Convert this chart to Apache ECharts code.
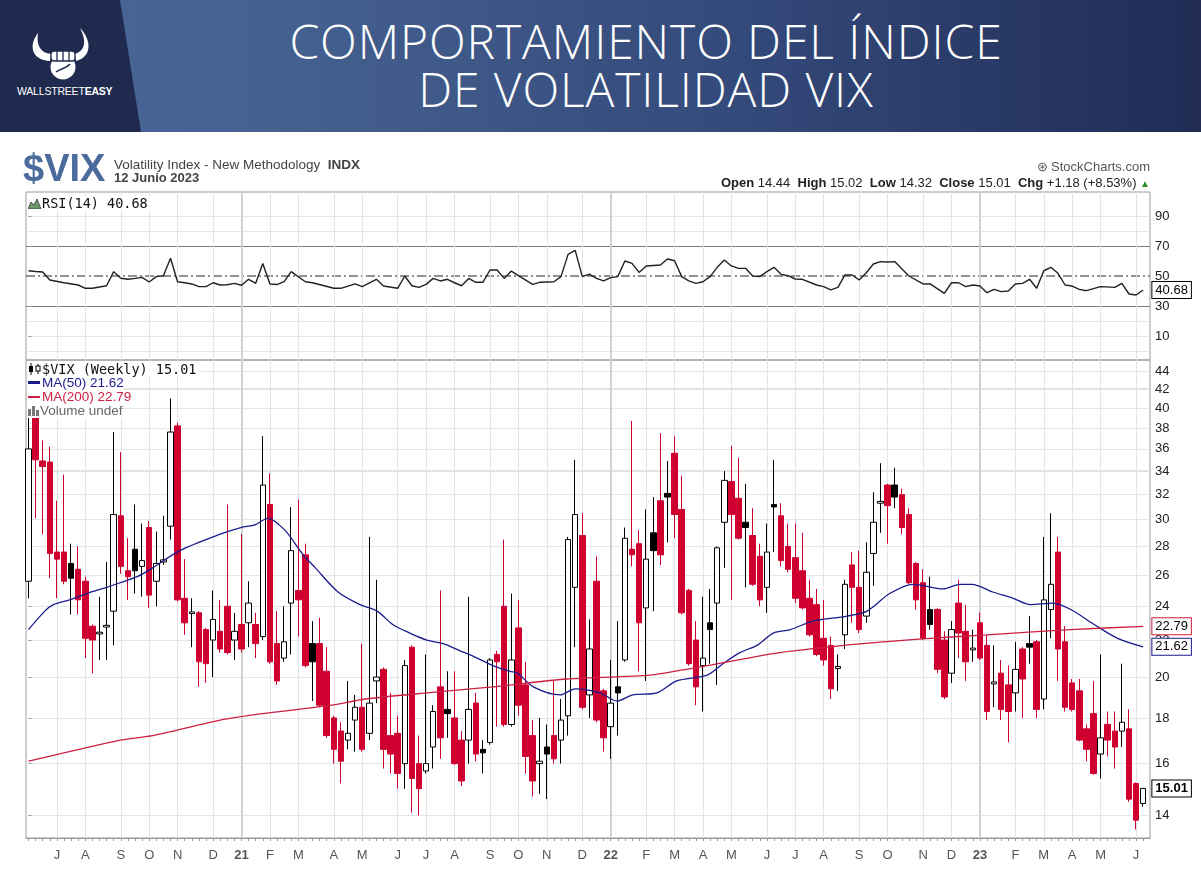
<!DOCTYPE html>
<html><head><meta charset="utf-8">
<script src="https://cdn.jsdelivr.net/npm/echarts@6/dist/echarts.min.js"></script>
<style>
html,body{margin:0;padding:0;width:1201px;height:872px;overflow:hidden;background:#fff;font-family:"Liberation Sans",Arial,sans-serif;}
#chart{position:absolute;left:0;top:0;width:1201px;height:872px;}
.ov{position:absolute;z-index:5;white-space:nowrap;}
#banner{position:absolute;left:0;top:0;width:1201px;height:132px;z-index:4;overflow:hidden;
  background:linear-gradient(90deg,#4a679a 0px,#44608f 300px,#33497a 750px,#202c54 1201px);}
#logoPanel{position:absolute;left:0;top:0;width:142px;height:132px;background:#1f2a4e;clip-path:polygon(0 0,120px 0,141px 132px,0 132px);}
.ttl{position:absolute;left:0;width:1292px;text-align:center;color:#fff;font-family:"Open Sans",sans-serif;font-weight:300;font-size:48px;line-height:50px;letter-spacing:0.9px;}
.mono{font-family:"DejaVu Sans Mono",monospace;font-size:13.5px;color:#111;background:#fff;line-height:14px;}
.leg{font-family:"Liberation Sans",Arial,sans-serif;font-size:13.5px;line-height:14px;background:#fff;}
</style></head>
<body>
<div id="chart"></div>

<div id="banner">
  <div id="logoPanel">
    <svg width="130" height="132" viewBox="0 0 130 132" style="position:absolute;left:0;top:0">
      <path d="M38 33 C28 46 32 60 50 61 L51 54 C41 53 36 46 38 33 Z" fill="#fff"/>
      <path d="M80 28 C92 40 92 57 76 61 L75 54 C85 51 87 41 80 28 Z" fill="#fff"/>
      <circle cx="63" cy="67" r="12.5" fill="#fff"/>
      <rect x="51" y="51" width="24" height="10" rx="3" fill="#fff" stroke="#1f2a4e" stroke-width="1.3"/>
      <path d="M57 51 L57 61 M63 51 L63 61 M69 51 L69 61" stroke="#1f2a4e" stroke-width="1.3"/>
      <path d="M56 72 C61 68 66 69 70 64" stroke="#1f2a4e" stroke-width="1.6" fill="none"/>
      <text x="17" y="95" fill="#fff" font-family="Liberation Sans, Arial" font-size="10.5" letter-spacing="-0.2">WALLSTREET<tspan font-weight="bold">EASY</tspan></text>
    </svg>
  </div>
  <div class="ttl" style="top:16px">COMPORTAMIENTO DEL ÍNDICE</div>
  <div class="ttl" style="top:64px">DE VOLATILIDAD VIX</div>
</div>

<div class="ov" style="left:23px;top:149px;font:bold 38px 'Liberation Sans',Arial;color:#4a6b9c;letter-spacing:0px;line-height:38px">$VIX</div>
<div class="ov" style="left:114px;top:158px;font-size:13.5px;color:#444;line-height:14px">Volatility Index - New Methodology&nbsp;&nbsp;<b>INDX</b></div>
<div class="ov" style="left:114px;top:171px;font-size:13px;font-weight:bold;color:#444;line-height:14px">12 Junio 2023</div>
<div class="ov" style="right:51px;top:160px;font-size:13px;color:#555;line-height:14px">&#x229B;&thinsp;StockCharts.com</div>
<div class="ov" style="right:51px;top:176px;font-size:13px;color:#222;line-height:14px"><b>Open</b> 14.44&nbsp; <b>High</b> 15.02&nbsp; <b>Low</b> 14.32&nbsp; <b>Close</b> 15.01&nbsp; <b>Chg</b> +1.18 (+8.53%) <span style="color:#2e8b2e;font-size:10px">&#9650;</span></div>

<div class="ov mono" style="left:28px;top:196px;padding-right:2px">
  <svg width="14" height="11" style="vertical-align:-1px"><path d="M0 11 L3 4 L6 7 L9 1 L13 11 Z" fill="#6a9a6a" stroke="#333" stroke-width="0.8"/></svg>RSI(14) 40.68</div>

<div class="ov mono" style="left:28px;top:362px;padding-right:2px">
  <svg width="14" height="12" style="vertical-align:-1px"><path d="M3 0 L3 12 M10 1 L10 11" stroke="#000" stroke-width="1"/><rect x="1" y="3" width="4" height="6" fill="#000"/><rect x="8" y="3" width="4" height="5" fill="#fff" stroke="#000" stroke-width="1"/></svg>$VIX (Weekly) 15.01</div>
<div class="ov leg" style="left:28px;top:376px;color:#1a1a8e"><span style="display:inline-block;width:12px;height:3px;background:#1a1a8e;vertical-align:3px;margin-right:2px"></span>MA(50) 21.62</div>
<div class="ov leg" style="left:28px;top:390px;color:#cc1f42"><span style="display:inline-block;width:12px;height:2px;background:#cc1f42;vertical-align:3px;margin-right:2px"></span>MA(200) 22.79</div>
<div class="ov leg" style="left:28px;top:404px;color:#666">
  <svg width="12" height="11" style="vertical-align:-1px"><rect x="0" y="4" width="3" height="7" fill="#777"/><rect x="4" y="1" width="3" height="10" fill="#777"/><rect x="8" y="5" width="3" height="6" fill="#777"/></svg>Volume undef</div>

<script>
// ---------------- DATA ----------------
const weekStart = '2020-06-08'; // Monday of first weekly bar; one bar per week to 2023-06-12
const opens = [25.6,39.5,34.9,34.8,27.6,27.6,26.8,26.4,25.6,22.8,
22.35,22.75,23.7,30.3,26.3,27.8,26.6,29.4,25.6,26.9,
29.5,38.2,24.5,23.55,23.6,22.6,22.0,22.5,24.0,22.0,
22.9,23.0,22.9,22.2,31.2,21.8,21.0,24.2,25.0,27.4,
21.8,21.8,20.3,18.0,17.4,17.0,17.9,18.5,17.3,19.8,
20.4,17.2,17.3,16.0,21.6,16.0,15.7,16.7,19.5,18.4,
18.0,17.0,17.0,18.7,16.6,16.9,21.2,24.0,17.7,22.7,
19.6,17.2,16.0,16.7,17.2,17.0,18.1,25.2,28.8,19.1,
25.6,19.3,17.6,19.5,20.9,27.8,28.2,23.9,29.0,31.5,
32.1,35.6,30.8,25.0,22.0,20.6,23.0,24.2,29.8,33.1,
31.7,29.8,28.8,27.3,25.2,31.2,30.3,28.0,27.2,26.3,
24.5,24.1,22.1,21.7,20.45,22.3,26.7,25.2,23.4,27.5,
31.3,32.8,32.8,32.0,30.4,26.8,25.5,23.8,23.8,22.0,
20.2,24.2,22.5,21.45,23.0,21.7,19.65,20.2,19.6,19.2,
21.5,21.8,21.9,18.9,23.8,27.6,21.9,19.7,19.3,17.5,
18.2,16.4,17.7,17.4,17.4,17.5,15.2,14.44];
const highs = [44.4,41.2,36.8,36.2,31.5,33.7,28.2,28.0,25.9,22.9,
24.6,26.9,37.6,35.7,28.6,31.2,29.7,29.9,29.1,30.3,
41.0,38.5,27.1,24.5,23.7,22.7,25.0,24.4,31.2,23.6,
28.9,25.6,23.6,37.2,33.8,23.7,24.0,31.0,31.6,28.2,
23.1,23.3,21.6,18.1,17.8,19.8,19.1,21.8,28.7,25.7,
20.5,19.2,18.1,20.9,21.7,17.2,21.2,18.6,25.0,20.3,
20.3,17.4,24.6,19.2,17.0,21.0,21.4,28.5,24.8,24.4,
20.8,17.9,18.0,17.7,19.8,18.9,28.7,35.0,30.5,23.2,
27.3,19.4,20.9,23.1,29.4,38.7,29.2,30.8,31.8,37.5,
34.9,37.2,33.6,25.1,23.1,24.6,25.1,28.0,34.0,36.3,
35.2,32.9,30.9,28.2,29.7,35.0,31.3,29.7,29.7,29.0,
25.7,25.1,24.4,22.2,21.2,25.7,27.6,27.7,28.3,32.2,
34.7,32.9,34.3,32.5,30.9,26.9,26.4,25.9,23.9,22.5,
23.1,25.7,24.1,22.6,23.6,22.3,21.7,20.9,20.6,21.9,
21.6,23.4,22.0,28.7,30.5,28.7,22.8,19.9,19.9,17.7,
19.8,21.2,18.3,18.3,20.7,18.4,15.25,15.02];
const lows = [24.5,30.1,28.9,25.8,24.5,25.4,23.5,23.5,21.0,20.2,
20.9,20.9,21.7,26.1,24.4,24.8,24.6,23.9,24.0,26.7,
28.5,24.3,22.3,21.6,19.5,19.7,20.0,21.3,21.2,20.9,
21.3,21.6,21.0,22.0,20.7,19.6,20.8,21.2,22.2,20.5,
18.8,18.5,17.1,16.0,15.2,16.6,16.5,16.5,17.0,18.7,
15.8,15.6,15.0,15.0,14.1,14.0,15.6,15.8,16.2,17.1,
15.95,15.1,16.0,16.1,15.6,16.8,17.6,17.6,17.6,18.1,
15.6,14.7,14.8,14.6,16.0,16.0,17.2,21.6,18.4,18.0,
17.8,16.5,16.2,17.2,20.8,26.6,20.3,19.8,23.7,26.7,
28.3,28.6,23.5,20.6,18.6,18.3,20.7,19.6,26.5,24.4,
28.5,25.2,25.3,24.0,23.6,27.6,26.6,26.2,24.2,23.8,
22.2,21.1,20.6,18.9,19.3,21.5,23.0,22.4,23.0,25.3,
29.0,28.2,30.9,28.9,25.4,23.8,22.0,22.6,20.2,18.9,
19.7,21.0,19.8,20.8,20.9,17.9,18.5,17.9,16.9,18.3,
18.0,20.7,18.0,18.4,22.1,19.8,18.3,18.3,16.95,16.1,
15.55,15.4,16.3,15.8,16.7,14.5,13.5,14.32];
const closes = [36.0,35.0,34.4,27.5,27.1,25.6,25.8,24.4,22.1,22.0,
22.45,22.85,30.4,26.6,25.9,26.3,27.0,24.7,26.8,27.05,
37.6,24.4,23.0,23.65,20.8,20.7,23.2,21.5,21.3,22.5,
21.5,24.2,21.8,32.8,20.8,19.8,21.9,27.7,24.4,20.6,
20.8,18.6,17.2,16.6,16.1,17.3,18.5,16.6,18.7,20.0,
16.6,16.4,15.6,20.6,15.4,15.0,16.0,18.3,17.1,18.2,
16.0,15.3,18.4,16.4,16.45,20.9,20.8,17.7,20.9,18.6,
16.3,15.3,16.1,16.4,16.2,17.9,28.5,30.4,18.5,21.5,
17.9,17.1,18.7,19.2,28.6,27.4,23.0,27.1,27.7,27.4,
31.8,30.4,23.6,20.7,19.5,21.0,22.6,27.9,33.2,30.4,
28.6,29.4,25.4,24.4,27.6,31.0,27.0,26.4,24.5,23.9,
22.3,21.2,20.9,19.4,20.55,25.4,25.2,22.6,26.2,29.8,
31.45,31.1,31.8,29.4,25.5,24.4,22.1,22.9,20.4,19.0,
22.6,22.4,20.8,21.55,21.0,18.3,19.75,18.4,18.3,20.4,
19.9,21.6,18.4,24.4,25.4,21.5,18.5,18.4,17.0,16.6,
15.6,17.1,17.0,16.7,17.8,14.6,13.83,15.01];
// moving averages: [week index, value]
const ma50Pts = [[0,22.6],[2.3,23.7],[3.5,24.1],[5.8,24.4],[8.2,24.8],[11,25.2],[12.9,25.5],[15.3,25.9],[17.5,26.5],[21.3,27.7],[27,28.9],[29.9,29.4],[31.9,29.6],[33.7,30.1],[36.1,29.2],[38.7,27.4],[40.4,26.5],[43.6,24.9],[46.7,24.1],[49.1,23.7],[51.3,22.9],[53.7,22.4],[56.1,22.0],[58.4,21.8],[60.8,21.4],[63.2,21.0],[65.4,20.6],[67.8,20.3],[68.9,20.2],[71.1,19.5],[74.9,19.1],[77,19.4],[80.5,19.2],[82.9,18.8],[85.1,19.1],[88.5,19.2],[91.3,19.8],[95.6,20.1],[97.8,20.7],[100.2,21.3],[102.6,21.7],[104.9,22.4],[107.3,22.6],[110.5,23.1],[115.3,23.4],[118.1,23.7],[121.3,24.8],[124.6,25.4],[128.8,25.1],[131.2,25.4],[132.9,25.4],[135.8,24.9],[138.7,24.5],[141.1,24.1],[144.3,24.2],[146.8,23.8],[150.1,22.9],[153.4,22.1],[157,21.62]];
const ma200Pts = [[0,16.1],[12.9,17.0],[17.5,17.2],[27,17.9],[32.9,18.2],[38,18.4],[42.7,18.6],[47.4,18.9],[56.1,19.2],[65.4,19.5],[75.8,19.9],[87.5,20.1],[95.6,20.6],[105.8,21.3],[117.5,21.8],[127,22.1],[135,22.3],[146.7,22.6],[157,22.79]];
// RSI(14): [week index, value]
const rsiPts = [[0,53.5],[1,53.0],[2,52.7],[3,47.3],[5,45.5],[7,44.0],[8,41.8],[9,41.8],[11,43.5],[12,52.9],[13,48.5],[14,47.8],[15,48.4],[16,49.1],[17,46.0],[18,49.6],[19,50.2],[20,61.8],[21,46.2],[22,45.5],[23,44.7],[24,42.9],[25,42.9],[26,45.5],[27,44.0],[28,44.2],[29,45.1],[30,43.8],[31,47.8],[32,45.1],[33,58.4],[34,44.7],[35,44.3],[36,46.2],[37,52.9],[39,46.2],[40,45.5],[43,41.8],[44,41.8],[46,44.7],[47,42.9],[49,47.8],[50,43.3],[52,41.8],[53,50.0],[54,43.5],[55,42.4],[56,44.4],[57,48.4],[58,46.7],[59,47.8],[60,45.5],[61,43.5],[62,48.4],[63,45.8],[64,45.8],[65,54.0],[66,54.0],[67,48.4],[68,53.3],[69,50.2],[71,44.4],[72,45.8],[74,46.2],[75,49.6],[76,64.4],[77,67.1],[78,49.6],[79,51.3],[80,48.4],[81,46.7],[82,48.9],[83,49.6],[84,60.0],[85,58.4],[86,52.4],[87,56.7],[89,57.3],[90,61.3],[91,60.2],[92,49.6],[93,46.7],[94,45.1],[95,46.2],[96,49.6],[97,55.8],[98,60.7],[99,56.7],[100,55.1],[101,55.1],[102,50.0],[103,49.6],[104,52.9],[105,55.8],[106,51.1],[107,50.2],[108,48.0],[109,47.8],[111,44.0],[112,42.9],[113,40.7],[114,42.4],[115,50.7],[116,50.7],[117,47.3],[118,52.2],[119,58.0],[120,59.6],[121,59.3],[122,59.6],[124,50.0],[126,44.7],[127,44.7],[129,38.4],[130,45.5],[131,45.5],[132,42.9],[133,44.0],[134,43.3],[135,38.9],[136,41.1],[137,39.6],[138,40.0],[139,44.7],[140,45.1],[141,47.8],[142,41.8],[143,53.5],[144,55.8],[145,51.8],[146,44.0],[147,43.3],[148,41.1],[149,40.2],[151,42.9],[153,42.4],[154,45.1],[155,38.0],[156,37.3],[157,40.68]];
const lastRSI = '40.68', lastMA50 = '21.62', lastMA200 = '22.79', lastClose = '15.01';
// x-axis: first weekly bar of each month
const monthIdx = [4,8,13,17,21,26,30,34,38,43,47,52,56,60,65,69,73,78,82,87,91,95,99,104,108,112,117,121,126,130,134,139,143,147,151,156];
const monthLbl = ['J','A','S','O','N','D','21','F','M','A','M','J','J','A','S','O','N','D','22','F','M','A','M','J','J','A','S','O','N','D','23','F','M','A','M','J'];
const yearIdx = [30,82,134];
const priceTicks = [14,16,18,20,22,24,26,28,30,32,34,36,38,40,42,44];
const priceHeavy = [34,42];
const rsiTicks = [10,30,50,70,90];
const rsiLight = [0,10,20,80,90];
const rsiBands = [30,70];
const rsiMid = [50];

// ---------------- CHART ----------------
const L = Math.log;
const X_MIN = -0.352, X_MAX = 157.96, X_END = 157.94;
const Y_MIN = L(13.21), Y_MAX = L(45.27);
const RED = '#cf0030', BLACK = '#000000';
const weekIdx = closes.map((c, i) => i);

const candles = closes.map((c, i) => {
  const o = opens[i];
  const prev = i > 0 ? closes[i - 1] : -Infinity;
  const col = c >= prev ? BLACK : RED;
  const fill = c >= o ? '#ffffff' : col;
  return { value: [i, L(o), L(c), L(lows[i]), L(highs[i])],
           itemStyle: { color: fill, color0: fill, borderColor: col, borderColor0: col } };
});

function hiddenX(grid, vals, color, width) {
  return { type: 'value', gridIndex: grid, min: X_MIN, max: X_MAX,
    axisLine: { show: false }, axisLabel: { show: false },
    axisTick: { show: false, customValues: vals },
    splitLine: { show: true, lineStyle: { color: color, width: width } } };
}
function hiddenY(grid, min, max, vals, style) {
  return { type: 'value', gridIndex: grid, min: min, max: max,
    axisLine: { show: false }, axisLabel: { show: false },
    axisTick: { show: false, customValues: vals },
    splitLine: { show: true, lineStyle: style } };
}
function endBox(coord, text, border, bold) {
  return { symbol: 'circle', symbolSize: 1, itemStyle: { color: 'rgba(0,0,0,0)' }, silent: true, animation: false,
    label: { show: true, position: 'right', distance: 2, formatter: text, color: '#000',
      fontSize: 13, fontWeight: bold ? 'bold' : 'normal', fontFamily: 'Liberation Sans, Arial',
      backgroundColor: '#fff', borderColor: border, borderWidth: 1, padding: [2, 3, 1, 3] },
    data: [{ coord: coord }] };
}

const chart = echarts.init(document.getElementById('chart'), null, { renderer: 'canvas' });
chart.setOption({
  animation: false,
  backgroundColor: '#fff',
  grid: [
    { left: 26, top: 192, width: 1124, height: 168, show: true, borderColor: '#9a9a9a', borderWidth: 1 },
    { left: 26, top: 360, width: 1124, height: 478, show: true, borderColor: '#9a9a9a', borderWidth: 1 }
  ],
  xAxis: [
    hiddenX(0, monthIdx, '#e4e4e4', 1),
    hiddenX(0, yearIdx, '#d2d2d2', 2),
    hiddenX(1, monthIdx, '#e4e4e4', 1),
    hiddenX(1, yearIdx, '#d2d2d2', 2),
    { type: 'value', gridIndex: 1, min: X_MIN, max: X_MAX, position: 'bottom',
      axisLine: { show: true, lineStyle: { color: '#999' } },
      axisTick: { show: true, customValues: weekIdx, length: 3, lineStyle: { color: '#999' } },
      splitLine: { show: false },
      axisLabel: { show: true, customValues: monthIdx, margin: 11, color: '#555', fontSize: 13,
        fontFamily: 'Liberation Sans, Arial',
        formatter: v => { const k = monthIdx.indexOf(Math.round(v)); const s = monthLbl[k]; return /\d/.test(s) ? '{y|' + s + '}' : s; },
        rich: { y: { fontWeight: 'bold', color: '#555', fontSize: 13, fontFamily: 'Liberation Sans, Arial' } } } }
  ],
  yAxis: [
    { type: 'value', gridIndex: 0, min: -6, max: 106, position: 'right',
      axisLine: { show: false },
      axisTick: { show: true, customValues: rsiTicks, length: 3, lineStyle: { color: '#999' } },
      splitLine: { show: false },
      axisLabel: { show: true, customValues: rsiTicks, margin: 5, color: '#222', fontSize: 13, fontFamily: 'Liberation Sans, Arial' } },
    hiddenY(0, -6, 106, rsiLight, { color: '#e6e6e6', width: 1 }),
    hiddenY(0, -6, 106, rsiBands, { color: '#7a7a7a', width: 1 }),
    hiddenY(0, -6, 106, rsiMid, { color: '#6f6f6f', width: 1.6, type: [9, 3, 2, 3] }),
    { type: 'value', gridIndex: 1, min: Y_MIN, max: Y_MAX, position: 'right',
      axisLine: { show: false },
      axisTick: { show: true, customValues: priceTicks.map(L), length: 3, lineStyle: { color: '#999' } },
      splitLine: { show: true, lineStyle: { color: '#e6e6e6', width: 1 } },
      axisLabel: { show: true, customValues: priceTicks.map(L), margin: 5, color: '#222', fontSize: 13,
        fontFamily: 'Liberation Sans, Arial', formatter: v => String(Math.round(Math.exp(v))) } },
    hiddenY(1, Y_MIN, Y_MAX, priceHeavy.map(L), { color: '#e3e3e3', width: 2 })
  ],
  series: [
    { type: 'line', name: 'RSI', xAxisIndex: 0, yAxisIndex: 0, data: rsiPts,
      showSymbol: false, symbol: 'none', lineStyle: { color: '#222', width: 1.4 }, z: 4,
      markPoint: endBox([X_END, 40.68], lastRSI, '#000', false) },
    { type: 'candlestick', name: '$VIX', xAxisIndex: 4, yAxisIndex: 4, barWidth: 6,
      dimensions: ['idx', 'open', 'close', 'lowest', 'highest'],
      encode: { x: 0, y: [1, 2, 3, 4] }, data: candles, itemStyle: { borderWidth: 1 }, z: 3,
      markPoint: endBox([X_END, L(15.01)], lastClose, '#000', true) },
    { type: 'line', name: 'MA(50)', xAxisIndex: 4, yAxisIndex: 4, data: ma50Pts.map(p => [p[0], L(p[1])]),
      showSymbol: false, symbol: 'none', smooth: 0.3, lineStyle: { color: '#1a1a8e', width: 1.3 }, z: 5,
      markPoint: endBox([X_END, L(21.62)], lastMA50, '#1a1a8e', false) },
    { type: 'line', name: 'MA(200)', xAxisIndex: 4, yAxisIndex: 4, data: ma200Pts.map(p => [p[0], L(p[1])]),
      showSymbol: false, symbol: 'none', smooth: 0.2, lineStyle: { color: '#cc1f42', width: 1.3 }, z: 5,
      markPoint: endBox([X_END, L(22.79)], lastMA200, '#cc1f42', false) }
  ]
});
</script>
</body></html>
